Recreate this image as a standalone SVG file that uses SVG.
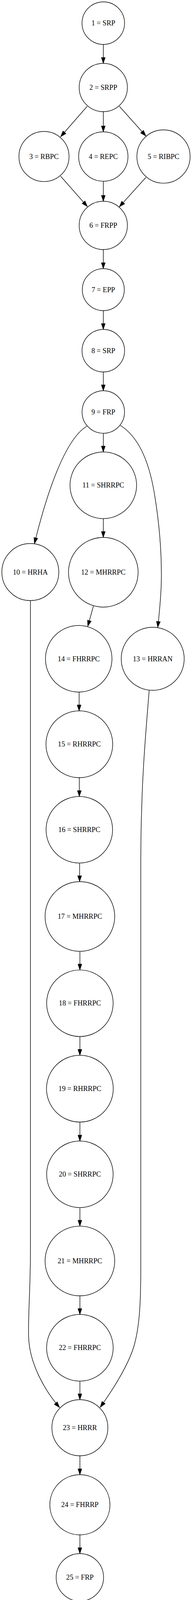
<svg xmlns="http://www.w3.org/2000/svg" width="492" height="4104" viewBox="0 0 492 4104">
<style>
.n ellipse{fill:none;stroke:#000;stroke-width:1.4}
.n text{font-family:"Liberation Serif","Times New Roman",serif;font-size:18.3px;text-anchor:middle;fill:#000}
.e path{fill:none;stroke:#000;stroke-width:1.4;marker-end:url(#ah)}
</style>
<defs>
<marker id="ah" markerUnits="userSpaceOnUse" markerWidth="17" markerHeight="12" refX="15" refY="5.5" orient="auto" viewBox="-1 0.5 17 10">
<path d="M0,0.5 L15,5.5 L0,10.5 z" fill="#000" stroke="#000" stroke-width="1"/>
</marker>
</defs>
<rect x="0" y="0" width="492" height="4104" fill="#fff"/>
<g id="edges" class="e">
<path d="M264.7,113.8 L264.7,162.2"/>
<path d="M223.3,272.3 L155.3,350"/>
<path d="M264.7,285.8 L264.7,337.5"/>
<path d="M306,272.3 L374,348.3"/>
<path d="M155.3,451 L224,528.9"/>
<path d="M264.7,463.9 L264.7,515.2"/>
<path d="M374,454 L305.7,529.6"/>
<path d="M264.7,638.8 L264.7,687.7"/>
<path d="M264.7,795.3 L264.7,843.3"/>
<path d="M264.7,952.3 L264.7,1000.3"/>
<path d="M222.7,1091 C165,1125 118,1270 88.3,1391.7"/>
<path d="M264.7,1109.1 L264.7,1157"/>
<path d="M308.3,1089 C345,1112 378,1160 395,1260 C410.3,1350 414,1420 413.5,1480 C413,1530 408,1570 404.3,1606"/>
<path d="M264.7,1327.6 L264.7,1375.8"/>
<path d="M239.3,1551.7 L225,1603.3"/>
<path d="M78,1537.5 L78,3200 C78,3300 72,3360 73.3,3420 C74.5,3490 115,3560 152.7,3603.3"/>
<path d="M382.3,1767 C375,1860 361,2000 360.7,2200 L360.7,3250 C360.7,3330 358,3390 345,3440 C333,3486 295,3550 256.7,3602.7"/>
<path d="M202.7,1771.7 L202.7,1819.8"/>
<path d="M203.3,1990.8 L203.3,2039"/>
<path d="M204,2209.4 L204,2257"/>
<path d="M204.7,2435.4 L204.7,2483.1"/>
<path d="M204.7,2653.5 L204.7,2701.5"/>
<path d="M204.7,2872.5 L204.7,2921"/>
<path d="M204.7,3091.4 L204.7,3138.9"/>
<path d="M204.7,3317.3 L204.7,3365"/>
<path d="M204.7,3535.6 L204.7,3583.3"/>
<path d="M204.7,3726.7 L204.7,3775.3"/>
<path d="M204.7,3929.3 L204.7,3977.2"/>
</g>
<g id="n1" class="n"><ellipse cx="264.7" cy="59.3" rx="54.5" ry="54.5"/><text x="264.7" y="65.3">1 = SRP</text></g>
<g id="n2" class="n"><ellipse cx="264.7" cy="224" rx="61.8" ry="61.8"/><text x="264.7" y="230">2 = SRPP</text></g>
<g id="n3" class="n"><ellipse cx="112.7" cy="400.7" rx="64.2" ry="64.2"/><text x="112.7" y="406.7">3 = RBPC</text></g>
<g id="n4" class="n"><ellipse cx="264.7" cy="400.7" rx="63.2" ry="63.2"/><text x="264.7" y="406.7">4 = REPC</text></g>
<g id="n5" class="n"><ellipse cx="419" cy="400.7" rx="68.2" ry="68.2"/><text x="419" y="406.7">5 = RIBPC</text></g>
<g id="n6" class="n"><ellipse cx="264.7" cy="577" rx="61.8" ry="61.8"/><text x="264.7" y="583">6 = FRPP</text></g>
<g id="n7" class="n"><ellipse cx="264.7" cy="741.5" rx="53.8" ry="53.8"/><text x="264.7" y="747.5">7 = EPP</text></g>
<g id="n8" class="n"><ellipse cx="264.7" cy="897.8" rx="54.5" ry="54.5"/><text x="264.7" y="903.8">8 = SRP</text></g>
<g id="n9" class="n"><ellipse cx="264.7" cy="1054.7" rx="54.4" ry="54.4"/><text x="264.7" y="1060.7">9 = FRP</text></g>
<g id="n10" class="n"><ellipse cx="77.7" cy="1464.5" rx="73" ry="73"/><text x="77.7" y="1470.5">10 = HRHA</text></g>
<g id="n11" class="n"><ellipse cx="264.7" cy="1242.3" rx="85.3" ry="85.3"/><text x="264.7" y="1248.3">11 = SHRRPC</text></g>
<g id="n12" class="n"><ellipse cx="264.7" cy="1465" rx="89.2" ry="89.2"/><text x="264.7" y="1471">12 = MHRRPC</text></g>
<g id="n13" class="n"><ellipse cx="391.3" cy="1686.5" rx="80.7" ry="80.7"/><text x="391.3" y="1692.5">13 = HRRAN</text></g>
<g id="n14" class="n"><ellipse cx="201.7" cy="1686.5" rx="85.2" ry="85.2"/><text x="201.7" y="1692.5">14 = FHRRPC</text></g>
<g id="n15" class="n"><ellipse cx="203.3" cy="1905.3" rx="85.5" ry="85.5"/><text x="203.3" y="1911.3">15 = RHRRPC</text></g>
<g id="n16" class="n"><ellipse cx="203.3" cy="2124.2" rx="85.2" ry="85.2"/><text x="203.3" y="2130.2">16 = SHRRPC</text></g>
<g id="n17" class="n"><ellipse cx="204.7" cy="2346.2" rx="89.2" ry="89.2"/><text x="204.7" y="2352.2">17 = MHRRPC</text></g>
<g id="n18" class="n"><ellipse cx="204.7" cy="2568.3" rx="85.2" ry="85.2"/><text x="204.7" y="2574.3">18 = FHRRPC</text></g>
<g id="n19" class="n"><ellipse cx="204.7" cy="2787" rx="85.5" ry="85.5"/><text x="204.7" y="2793">19 = RHRRPC</text></g>
<g id="n20" class="n"><ellipse cx="204.7" cy="3006.2" rx="85.2" ry="85.2"/><text x="204.7" y="3012.2">20 = SHRRPC</text></g>
<g id="n21" class="n"><ellipse cx="204.7" cy="3228.1" rx="89.2" ry="89.2"/><text x="204.7" y="3234.1">21 = MHRRPC</text></g>
<g id="n22" class="n"><ellipse cx="204.7" cy="3450.3" rx="85.3" ry="85.3"/><text x="204.7" y="3456.3">22 = FHRRPC</text></g>
<g id="n23" class="n"><ellipse cx="204.7" cy="3655" rx="71.7" ry="71.7"/><text x="204.7" y="3661">23 = HRRR</text></g>
<g id="n24" class="n"><ellipse cx="204.7" cy="3852.3" rx="77" ry="77"/><text x="204.7" y="3858.3">24 = FHRRP</text></g>
<g id="n25" class="n"><ellipse cx="204.7" cy="4038" rx="60.8" ry="60.8"/><text x="204.7" y="4044">25 = FRP</text></g>
</svg>
